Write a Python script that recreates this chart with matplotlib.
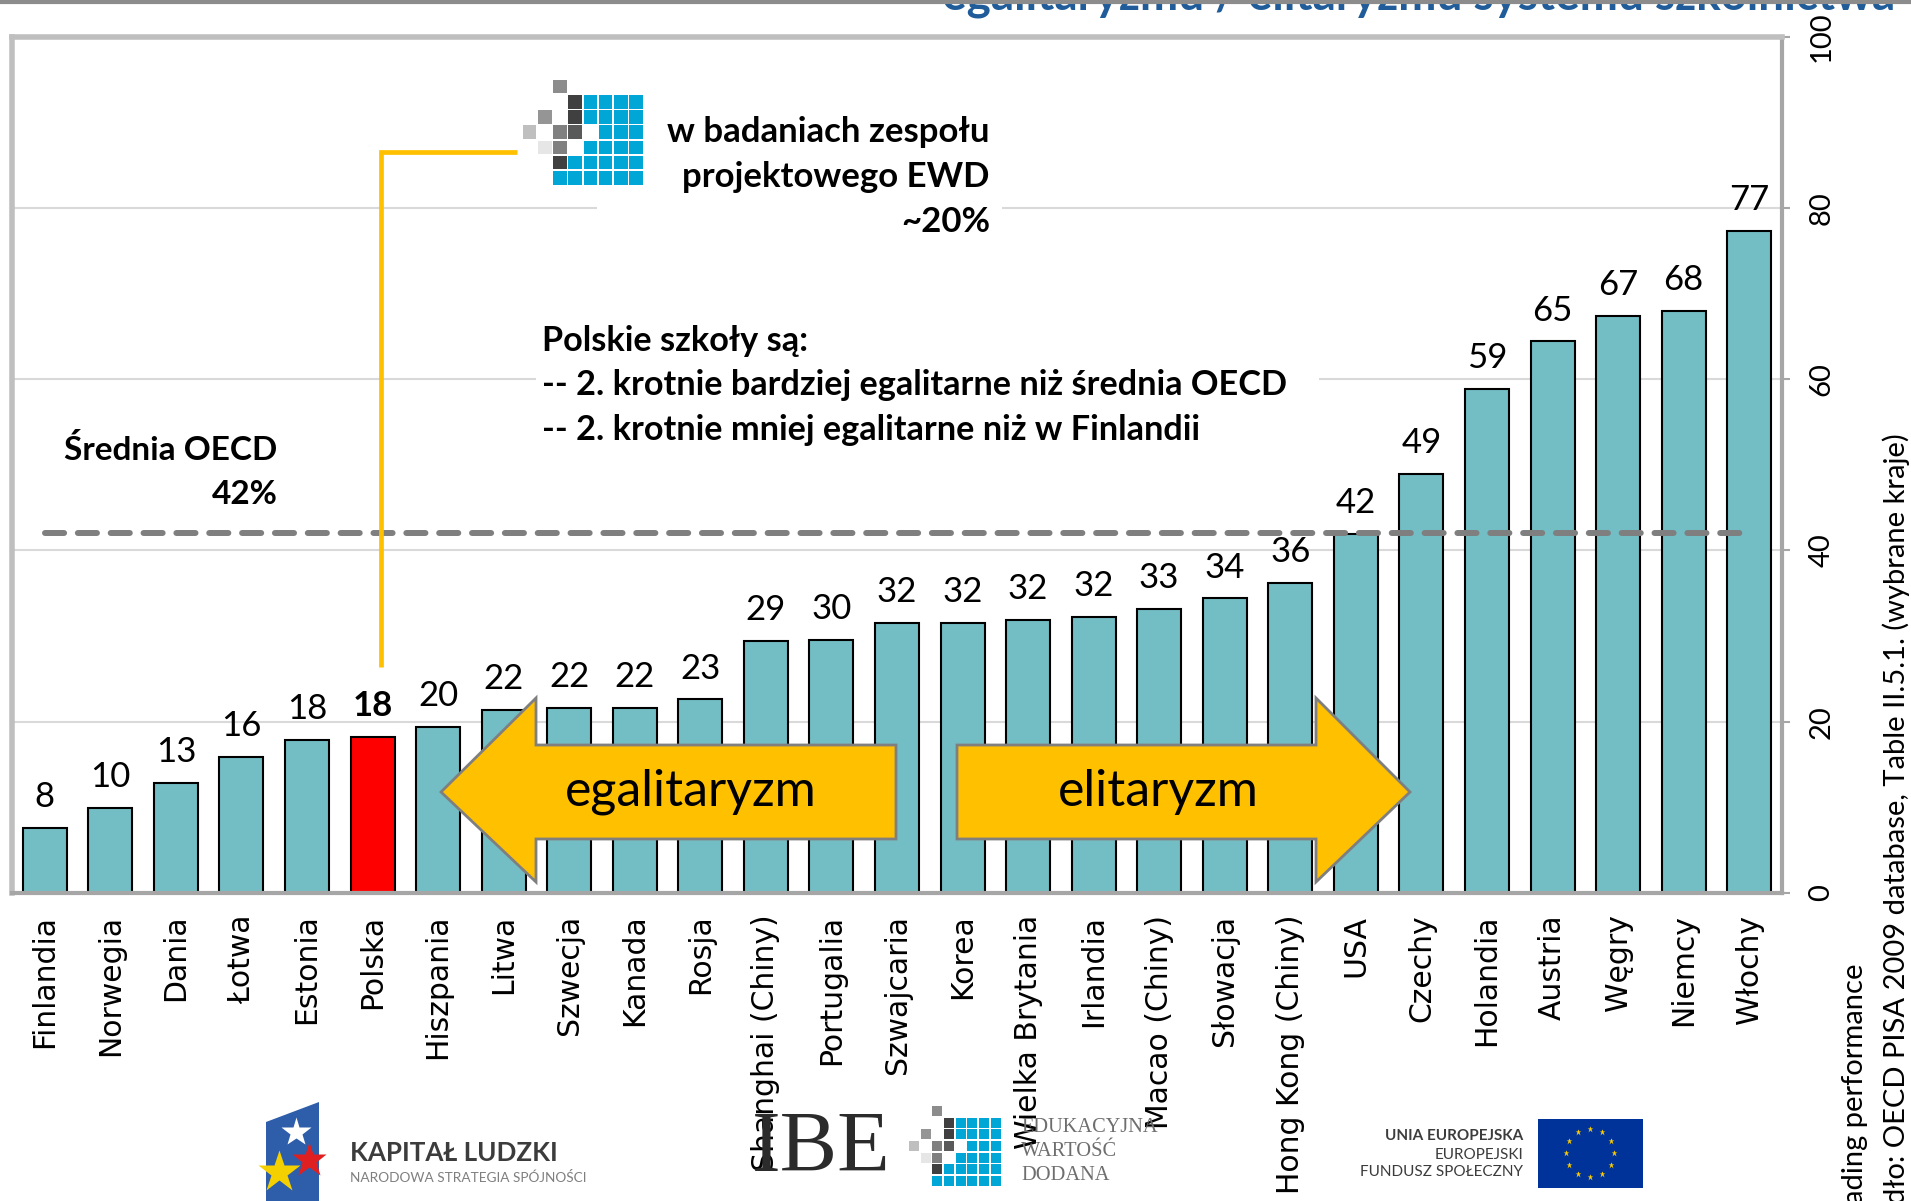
import matplotlib
matplotlib.use('Agg')
import matplotlib.pyplot as plt
from matplotlib.patches import Polygon, Rectangle
from matplotlib.lines import Line2D
from matplotlib import font_manager
import numpy as np

# ---------------- data ----------------
countries = ['Finlandia', 'Norwegia', 'Dania', 'Łotwa', 'Estonia', 'Polska', 'Hiszpania',
             'Litwa', 'Szwecja', 'Kanada', 'Rosja', 'Shanghai (Chiny)', 'Portugalia',
             'Szwajcaria', 'Korea', 'Wielka Brytania', 'Irlandia', 'Macao (Chiny)',
             'Słowacja', 'Hong Kong (Chiny)', 'USA', 'Czechy', 'Holandia', 'Austria',
             'Węgry', 'Niemcy', 'Włochy']
values = [7.6, 9.9, 12.9, 15.9, 17.9, 18.2, 19.4, 21.4, 21.6, 21.6, 22.6, 29.4, 29.5,
          31.5, 31.5, 31.9, 32.2, 33.2, 34.4, 36.2, 41.9, 48.9, 58.9, 64.4, 67.4, 68.0, 77.3]
value_labels = ['8', '10', '13', '16', '18', '18', '20', '22', '22', '22', '23', '29', '30',
                '32', '32', '32', '32', '33', '34', '36', '42', '49', '59', '65', '67', '68', '77']
highlight = 'Polska'
oecd_mean = 42
ewd_estimate = 20
yticks = [0, 20, 40, 60, 80, 100]

# ---------------- fonts ----------------
def has_font(name):
    try:
        font_manager.findfont(name, fallback_to_default=False)
        return True
    except Exception:
        return False

CAL = ['Lato', 'DejaVu Sans']
if has_font('Liberation Sans Narrow'):
    NARROW = ['Liberation Sans Narrow', 'DejaVu Sans']
    tick_fs, cap_fs = 24, 23
else:
    NARROW = ['Lato', 'DejaVu Sans']
    tick_fs, cap_fs = 21, 21

W, H = 1911, 1201
fig = plt.figure(figsize=(W / 100, H / 100), dpi=100)
fig.patch.set_facecolor('white')


def fx(px):
    return px / W


def fy(py):
    return 1 - py / H


ax = fig.add_axes([fx(12), fy(893), fx(1782) - fx(12), fy(36.5) - fy(893)])

x = np.arange(len(countries))
colors = ['#FF0000' if c == highlight else '#72BEC4' for c in countries]
ax.bar(x, values, width=0.67, color=colors, edgecolor='black', linewidth=1.5, zorder=2)
ax.set_xlim(-0.5, len(countries) - 0.5)
ax.set_ylim(0, 100)

ax.set_axisbelow(True)
ax.yaxis.grid(True, color='#D9D9D9', linewidth=1.5)
for side in ['left', 'top']:
    ax.spines[side].set_color('#BFBFBF')
    ax.spines[side].set_linewidth(4)
ax.spines['right'].set_color('#A6A6A6')
ax.spines['right'].set_linewidth(3)
ax.spines['bottom'].set_color('#A6A6A6')
ax.spines['bottom'].set_linewidth(3)

ax.yaxis.tick_right()
ax.set_yticks(yticks)
ax.set_yticklabels([str(t) for t in yticks], rotation=90, family=NARROW, fontsize=tick_fs)
for lbl in ax.get_yticklabels():
    lbl.set_va('center')
    lbl.set_ha('left')
ax.tick_params(axis='y', direction='out', length=6, width=1.5, color='#A6A6A6', pad=13)

ax.set_xticks(x)
ax.set_xticklabels(countries, rotation=90, family=['DejaVu Sans'], fontsize=21.5)
ax.tick_params(axis='x', length=0, pad=15.5)

for i, (v, lab, c) in enumerate(zip(values, value_labels, countries)):
    ax.annotate(lab, (i, v), xytext=(0, 15), textcoords='offset points', ha='center',
                va='baseline', fontsize=25, family=CAL,
                fontweight='bold' if c == highlight else 'normal', zorder=4)

# OECD mean dashed line
ax.plot([0, len(countries) - 1], [oecd_mean, oecd_mean], color='#7F7F7F', lw=4.3,
        dashes=(3.2, 2.3), dash_capstyle='round', zorder=3)

# yellow connector from Polska to EWD note
pi = countries.index(highlight)
ax.plot([pi + 0.13, pi + 0.13, pi + 2.21], [26.4, 86.5, 86.5], color='#FFC000', lw=3.4,
        zorder=3, solid_capstyle='butt', solid_joinstyle='miter')

# white boxes hiding grid lines behind notes
fig.patches.append(Rectangle((fx(597), fy(240)), fx(1002) - fx(597), fy(95) - fy(240),
                             transform=fig.transFigure, facecolor='white', edgecolor='none',
                             zorder=1))
fig.patches.append(Rectangle((fx(536), fy(450)), fx(1319) - fx(536), fy(320) - fy(450),
                             transform=fig.transFigure, facecolor='white', edgecolor='none',
                             zorder=1))

# arrows
left_arrow = [(441, 792), (536, 698), (536, 745), (896, 745), (896, 839), (536, 839), (536, 882)]
right_arrow = [(957, 745), (1316, 745), (1316, 698), (1410, 792), (1316, 882), (1316, 839), (957, 839)]
for poly in (left_arrow, right_arrow):
    fig.patches.append(Polygon([(fx(a), fy(b)) for a, b in poly], closed=True,
                               transform=fig.transFigure, facecolor='#FFC000',
                               edgecolor='#7F7F7F', linewidth=2, zorder=2))
fig.text(fx(691), fy(792), 'egalitaryzm', ha='center', va='center', fontsize=36, family=CAL)
fig.text(fx(1158), fy(792), 'elitaryzm', ha='center', va='center', fontsize=36, family=CAL)

# notes
fig.text(fx(171), fy(449), 'Średnia OECD', ha='center', va='center', fontsize=24,
         fontweight='bold', family=CAL)
fig.text(fx(278), fy(494), f'{oecd_mean}%', ha='right', va='center', fontsize=24,
         fontweight='bold', family=CAL)

for yy, t in zip([132, 177, 222], ['w badaniach zespołu', 'projektowego EWD', f'~{ewd_estimate}%']):
    fig.text(fx(990), fy(yy), t, ha='right', va='center', fontsize=25, fontweight='bold',
             family=CAL)

for yy, t in zip([341, 385, 430], ['Polskie szkoły są:',
                                  '-- 2. krotnie bardziej egalitarne niż średnia OECD',
                                  '-- 2. krotnie mniej egalitarne niż w Finlandii']):
    fig.text(fx(542), fy(yy), t, ha='left', va='center', fontsize=24.7, fontweight='bold',
             family=CAL)

# EWD pixel logo
def pixel_logo(x0, y0, s):
    blue = '#00A6D6'
    cells = []
    cells.append((0, 2, '#8C8C8C'))
    cells.append((1, 3, '#404040'))
    cells += [(1, c, blue) for c in range(4, 8)]
    cells.append((2, 1, '#959595'))
    cells.append((2, 3, '#404040'))
    cells += [(2, c, blue) for c in range(4, 8)]
    cells.append((3, 0, '#BFBFBF'))
    cells.append((3, 2, '#808080'))
    cells.append((3, 3, '#595959'))
    cells += [(3, c, blue) for c in range(5, 8)]
    cells.append((4, 1, '#E6E6E6'))
    cells.append((4, 2, '#808080'))
    cells += [(4, c, blue) for c in range(4, 8)]
    cells.append((5, 2, '#404040'))
    cells += [(5, c, blue) for c in range(3, 8)]
    cells += [(6, c, blue) for c in range(2, 8)]
    for r, c, col in cells:
        fig.patches.append(Rectangle((fx(x0 + c * s + 0.8), fy(y0 + (r + 1) * s - 0.8)),
                                     fx(s - 1.6), (s - 1.6) / H, transform=fig.transFigure,
                                     facecolor=col, edgecolor='none', zorder=2))


pixel_logo(522, 79, 15.2)

# slide header
fig.add_artist(Line2D([0, 1], [fy(1.5), fy(1.5)], color='#8C8C8C', lw=3, zorder=5))
fig.text(fx(1895), fy(9), 'egalitaryzmu / elitaryzmu systemu szkolnictwa', ha='right',
         va='baseline', fontsize=33, fontweight='bold', color='#1F5C99', family=CAL)

# right side source captions
fig.text(fx(1855), fy(1204), 'ading performance', rotation=90, rotation_mode='anchor',
         ha='left', va='center', fontsize=cap_fs, family=NARROW)
fig.text(fx(1896), fy(1204), 'dło: OECD PISA 2009 database, Table II.5.1. (wybrane kraje)',
         rotation=90, rotation_mode='anchor', ha='left', va='center', fontsize=cap_fs,
         family=NARROW)

# ---- bottom logos ----
# Kapitał Ludzki
fig.patches.append(Polygon([(fx(266), fy(1122)), (fx(319), fy(1102)), (fx(319), fy(1201)),
                            (fx(266), fy(1201))], closed=True, transform=fig.transFigure,
                           facecolor='#2E5DAA', edgecolor='none', zorder=2))
for (sx, sy, col, ms) in [(296, 1132, 'white', 22), (309, 1160, '#E02020', 26),
                          (279, 1172, '#F5D000', 32)]:
    fig.add_artist(Line2D([fx(sx)], [fy(sy)], marker='*', markersize=ms, color=col,
                          markeredgecolor='none', zorder=3))
fig.text(fx(350), fy(1153), 'KAPITAŁ LUDZKI', ha='left', va='center', fontsize=18.7,
         fontweight='bold', color='#3C3C3C', family=CAL)
fig.text(fx(350), fy(1177), 'NARODOWA STRATEGIA SPÓJNOŚCI', ha='left', va='center',
         fontsize=9.8, color='#7F7F7F', family=CAL)

# IBE
fig.text(fx(821), fy(1150), 'IBE', ha='center', va='center', fontsize=62,
         family=['Liberation Serif', 'DejaVu Serif'], color='#2B2B2B')
pixel_logo(908, 1105, 11.7)
for yy, t in zip([1127, 1152, 1176], ['EDUKACYJNA', 'WARTOŚĆ', 'DODANA']):
    fig.text(fx(1021), fy(yy), t, ha='left', va='center', fontsize=14.7, color='#6E6E6E',
             family=['Liberation Serif', 'DejaVu Serif'])

# EU
for yy, t, wgt in zip([1136, 1155, 1172], ['UNIA EUROPEJSKA', 'EUROPEJSKI', 'FUNDUSZ SPOŁECZNY'],
                      ['bold', 'normal', 'normal']):
    fig.text(fx(1523), fy(yy), t, ha='right', va='center', fontsize=11, fontweight=wgt,
             color='#3C3C3C', family=NARROW)
fig.patches.append(Rectangle((fx(1538), fy(1188)), fx(1643) - fx(1538), (1188 - 1119) / H,
                             transform=fig.transFigure, facecolor='#003399', edgecolor='none',
                             zorder=2))
ang = np.linspace(0, 2 * np.pi, 13)[:-1]
fig.add_artist(Line2D(fx(1590 + 24 * np.cos(ang)), fy(1153 + 24 * np.sin(ang)), ls='none',
                      marker='*', markersize=5, color='#FFCC00', markeredgecolor='none',
                      zorder=3))

fig.savefig('out.png', dpi=100)
